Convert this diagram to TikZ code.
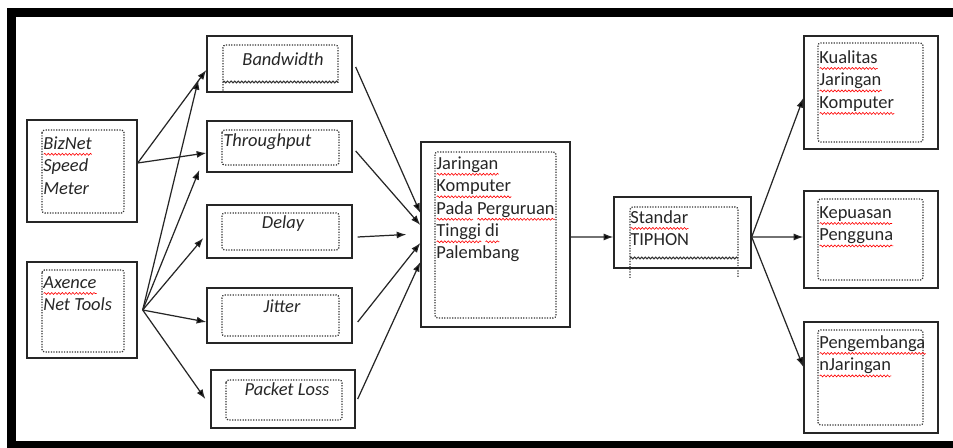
\documentclass[tikz,border=0pt]{standalone}
\usepackage{fontspec}
\setmainfont{Carlito}
\usetikzlibrary{arrows.meta,decorations.pathmorphing}
\newcommand\spl[1]{\leavevmode\setbox0=\hbox{#1}\rlap{\tikz[baseline=0pt]\draw[red,line width=0.35pt,decorate,decoration={snake,amplitude=0.55pt,segment length=2pt}] (0pt,-3pt) -- (\wd0,-3pt);}\box0\relax}

\begin{document}
\begin{tikzpicture}[x=0.02cm,y=-0.02cm,
	box/.style={draw=black!85,line width=0.8pt,inner sep=0pt},
	inbox/.style={draw=black!80,line width=0.7pt,dash pattern=on 0.7pt off 0.8pt,rounded corners=1.5pt},
	wavy/.style={draw=black!80,line width=0.6pt,decorate,decoration={snake,amplitude=0.5pt,segment length=2pt}},
	lbl/.style={inner sep=0pt,text=black!85,font=\fontsize{10.5}{12.8}\selectfont,align=left},
	ilbl/.style={lbl,font=\fontsize{10.5}{12.8}\selectfont\itshape},
	arr/.style={draw=black!85,line width=0.7pt,-{Latex[length=5.5pt,width=4pt]}}]
	\useasboundingbox (0,0) rectangle (953,448);
	% frame
	\fill (7,8) rectangle (16,448);
	\fill (7,8) rectangle (953,17);
	\fill (7,441) rectangle (953,448);
	% boxes
	\node[box,minimum width=2.2cm,minimum height=2.04cm] (biz) at (82,171) {};
	\node[box,minimum width=2.2cm,minimum height=1.92cm] (axe) at (82,310) {};
	\node[box,minimum width=2.9cm,minimum height=1.12cm] (band) at (279.5,64) {};
	\node[box,minimum width=2.9cm,minimum height=1.02cm] (thru) at (279.5,146.5) {};
	\node[box,minimum width=2.9cm,minimum height=1.06cm] (dly) at (279.5,231.5) {};
	\node[box,minimum width=2.9cm,minimum height=1.1cm] (jit) at (279.5,315.5) {};
	\node[box,minimum width=2.88cm,minimum height=1.16cm] (ploss) at (283,399) {};
	\node[box,minimum width=2.98cm,minimum height=3.7cm] (jar) at (495.5,234.5) {};
	\node[box,minimum width=2.74cm,minimum height=1.42cm] (std) at (682.5,232.5) {};
	\node[box,minimum width=2.68cm,minimum height=2.26cm] (kual) at (871,92.5) {};
	\node[box,minimum width=2.68cm,minimum height=1.94cm] (kep) at (871,239.5) {};
	\node[box,minimum width=2.68cm,minimum height=2.22cm] (peng) at (871,377.5) {};
	% dotted text frames
	\draw[inbox] (42,130) rectangle (124,213);
	\draw[inbox] (42,270) rectangle (124,352);
	\draw[inbox] (338,83) -- (338,45) -- (223,45) -- (223,93);
	\draw[wavy] (223,82) -- (338,82);
	\draw[inbox] (222,130) rectangle (339,165);
	\draw[inbox] (222,213) rectangle (339,250);
	\draw[inbox] (222,295) rectangle (339,336);
	\draw[inbox] (226,380) rectangle (342,420);
	\draw[inbox] (435,152) rectangle (556,318);
	\draw[inbox] (630,278) -- (630,207) -- (738,207) -- (738,278);
	\draw[wavy] (630,258) -- (738,258);
	\draw[inbox] (818,43) rectangle (923,142);
	\draw[inbox] (818,199) rectangle (923,280);
	\draw[inbox] (818,330) rectangle (923,425);
	% texts
	\node[ilbl,anchor=north west] (biztxt) at (43,136) {\spl{BizNet}\\Speed\\Meter};
	\node[ilbl,anchor=north west] (axetxt) at (43,276) {\spl{Axence}\\Net Tools};
	\node[ilbl] (bandtxt) at (283,59) {Bandwidth};
	\node[ilbl,anchor=base west] (thrutxt) at (223,147) {Throughput};
	\node[ilbl,anchor=base] (dlytxt) at (283,229) {Delay};
	\node[ilbl,anchor=base] (jittxt) at (282,313) {Jitter};
	\node[ilbl,anchor=base] (plosstxt) at (287,396) {Packet Loss};
	\node[lbl,anchor=north west] (jartxt) at (436,156) {\spl{Jaringan}\\\spl{Komputer}\\\spl{Pada} \spl{Perguruan}\\\spl{Tinggi} \spl{di}\\Palembang};
	\node[lbl,anchor=north west] (stdtxt) at (630,210) {\spl{Standar}\\TIPHON};
	\node[lbl,anchor=north west] (kualtxt) at (819,50) {\spl{Kualitas}\\\spl{Jaringan}\\\spl{Komputer}};
	\node[lbl,anchor=north west] (keptxt) at (819,206) {\spl{Kepuasan}\\\spl{Pengguna}};
	\node[lbl,anchor=north west] (pengtxt) at (819,335) {\spl{Pengembanga}\\\spl{nJaringan}};
	% arrows into the five measures
	\draw[arr] ([yshift=0.16cm]biz.east) -- ([yshift=-0.12cm]band.west);
	\draw[arr] ([yshift=0.16cm]biz.east) -- ([yshift=-0.13cm]thru.west);
	\draw[arr] ([xshift=0.1cm]axe.east) -- ([xshift=-0.16cm,yshift=-0.32cm]band.west);
	\draw[arr] ([xshift=0.1cm]axe.east) -- ([xshift=-0.14cm,yshift=-0.47cm]thru.west);
	\draw[arr] ([xshift=0.1cm]axe.east) -- ([xshift=-0.06cm,yshift=-0.13cm]dly.west);
	\draw[arr] ([xshift=0.1cm]axe.east) -- ([yshift=-0.13cm]jit.west);
	\draw[arr] ([xshift=0.1cm]axe.east) -- ([xshift=-0.1cm]ploss.west);
	% arrows into the network box
	\draw[arr] ([xshift=0.06cm,yshift=-0.06cm]band.east) -- ([yshift=0.43cm]jar.west);
	\draw[arr] ([xshift=0.06cm,yshift=-0.09cm]thru.east) -- ([yshift=0.19cm]jar.west);
	\draw[arr] ([xshift=0.1cm,yshift=-0.11cm]dly.east) -- ([xshift=-0.28cm]jar.west);
	\draw[arr] ([xshift=0.1cm,yshift=-0.13cm]jit.east) -- ([yshift=-0.17cm]jar.west);
	\draw[arr] ([xshift=0.04cm]ploss.east) -- ([yshift=-0.55cm]jar.west);
	% onward
	\draw[arr] ([yshift=-0.05cm]jar.east) -- ([yshift=-0.09cm]std.west);
	\draw[arr] ([yshift=-0.09cm]std.east) -- ([yshift=-0.11cm]kual.west);
	\draw[arr] ([yshift=-0.09cm]std.east) -- ([yshift=0.05cm]kep.west);
	\draw[arr] ([yshift=-0.09cm]std.east) -- ([yshift=0.21cm]peng.west);
\end{tikzpicture}
\end{document}
